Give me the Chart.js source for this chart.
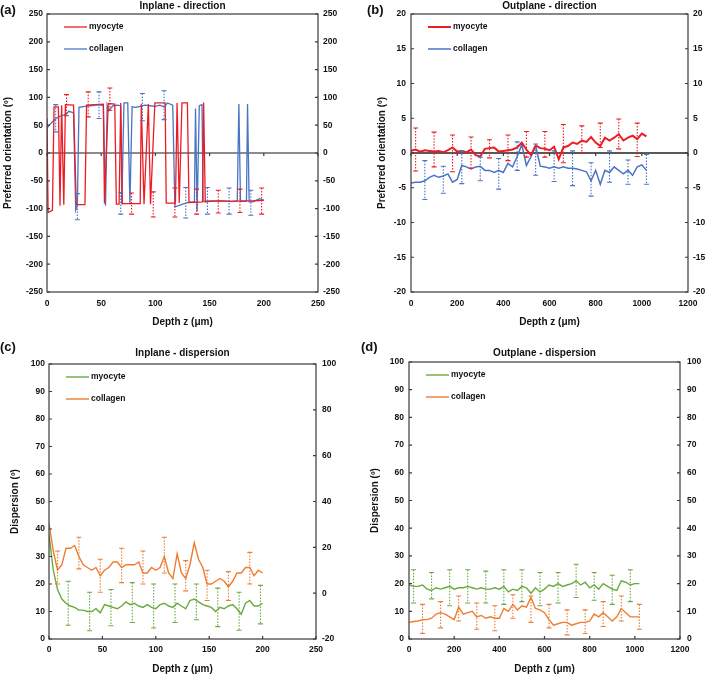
<!DOCTYPE html>
<html>
<head>
<meta charset="utf-8">
<script src="https://cdn.jsdelivr.net/npm/chart.js@4.4.1/dist/chart.umd.min.js"></script>
<style>
  body { margin: 0; background: #fff; width: 708px; height: 676px; position: relative; overflow: hidden;
         font-family: "Liberation Sans", Arial, sans-serif; }
  .pane { position: absolute; }
  .tag { position: absolute; font-weight: bold; font-size: 13px; color: #111; line-height: 15px; }
</style>
</head>
<body>
<div class="pane" style="left:0;top:0;"><canvas id="ca" width="354" height="330"></canvas></div>
<div class="pane" style="left:354px;top:0;"><canvas id="cb" width="354" height="330"></canvas></div>
<div class="pane" style="left:0;top:330px;"><canvas id="cc" width="354" height="346"></canvas></div>
<div class="pane" style="left:354px;top:330px;"><canvas id="cd" width="354" height="346"></canvas></div>
<div class="tag" style="left:0;top:2px;">(a)</div>
<div class="tag" style="left:367px;top:2px;">(b)</div>
<div class="tag" style="left:0;top:339px;">(c)</div>
<div class="tag" style="left:361px;top:339px;">(d)</div>
<script>
// ---- (a) Inplane - direction ----
const aMyoX = [0, 1, 5, 6.5, 10.5, 12, 13.5, 15.5, 17, 24.5, 27, 35, 36.5, 52, 53, 56.5, 62.5, 64, 66.5, 68,
  69.5, 86, 87, 89.5, 93.5, 95.5, 99.5, 109, 110, 118.5, 120, 122, 124.5, 129.5, 131, 143.5, 144.5, 146, 150, 160,
  170, 180, 190, 200];
const aMyoY = [62, -107, -103, 83, 83, -95, 86, -93, 87, 86, -93, -93, 86, 88, -91, 89, 88, -92, -92, 90,
  -91, -91, 88, -92, 88, -92, 90, 90, -90, -90, 90, -90, 90, 90, -89, -88, 91, -88, -87, -86,
  -87, -86, -86, -85];
const aColX = [0, 3, 6, 9, 12, 15, 18, 20, 22, 24.5, 26.5, 28, 29.5, 35, 40, 45, 50, 52, 54, 55.5,
  57, 58.5, 61, 65, 68, 69, 71, 74.5, 76.5, 78.5, 82, 86, 90, 95, 100, 104, 108, 111, 116, 118,
  124, 130, 136, 137, 138.5, 140.5, 143, 144, 150, 160, 170, 175.5, 177, 178.5, 184, 185, 186.5, 190, 196, 200];
const aColY = [45, 52, 58, 63, 66, 68, 70, 75, 74, 72, -103, -95, 82, 84, 85, 86, 86, 85, -95, 86,
  76, 80, 85, 86, 85, -92, 90, 90, -92, 83, 82, 84, 86, 85, 84, 86, 83, 90, 86, -97,
  -93, -89, -88, 80, -105, 85, 87, -87, -86, -86, -87, -86, 88, -87, -87, 88, -88, -88, -82, -85];
const aMyoErrX = [18, 38, 58, 78, 98, 118, 138, 158, 178, 198];
const aMyoErrHi = [105, 110, 117, -72, -70, -63, -65, -67, -65, -63];
const aMyoErrLo = [67, 65, 77, -110, -115, -115, -110, -108, -107, -110];
const aColErrX = [8, 28, 48, 68, 88, 108, 128, 148, 168, 188];
const aColErrHi = [87, -73, 110, -71, 107, 112, -62, -62, -63, -67];
const aColErrLo = [38, -120, 62, -110, 58, 60, -117, -110, -110, -112];

// ---- (b) Outplane - direction ----
const bX = [0, 20, 40, 60, 80, 100, 120, 140, 160, 180, 200, 220, 240, 260, 280, 300, 320, 340, 360, 380,
  400, 420, 440, 460, 480, 500, 520, 540, 560, 580, 600, 620, 640, 660, 680, 700, 720, 740, 760, 780,
  800, 820, 840, 860, 880, 900, 920, 940, 960, 980, 1000, 1020];
const bMyo = [0.3, 0.5, 0.2, 0.4, 0.3, 0.2, 0.3, 0.1, 0.4, 0.8, 0.2, 0.3, 0.1, 0.5, -0.3, -0.5, 0.6, 0.7, 0.8, 0.2,
  0.3, 0.4, 0.5, 0.8, 1.5, 0.5, -0.3, 1.1, 0.7, 0.6, 0.4, 0.9, -0.9, 0.8, 1.0, 1.5, 1.3, 1.8, 1.6, 2.3,
  1.5, 1.0, 2.2, 1.8, 2.2, 2.7, 1.8, 2.2, 2.5, 2.0, 2.8, 2.4];
const bCol = [-4.3, -4.2, -4.2, -4.0, -3.5, -3.2, -3.5, -3.3, -3.0, -4.2, -3.8, -1.8, -2.0, -2.3, -2.0, -1.9, -2.5, -2.5, -2.8, -2.5,
  -2.8, -1.5, -2.0, -0.5, 1.2, -1.8, -0.5, 1.0, -1.9, -2.0, -2.2, -2.0, -2.2, -2.0, -2.2, -2.2, -2.3, -2.5, -2.7, -4.0,
  -2.5, -4.5, -2.5, -2.8, -2.0, -2.5, -3.0, -2.5, -3.2, -2.0, -1.7, -2.5];
const bMyoErrX = [20, 100, 180, 260, 340, 420, 500, 580, 660, 740, 820, 900, 980];
const bMyoErrHi = [3.6, 3.0, 2.6, 2.3, 1.9, 2.6, 3.1, 3.1, 4.1, 3.9, 4.3, 4.9, 4.3];
const bMyoErrLo = [-2.6, -2.0, -2.7, -2.2, -0.7, -1.1, -0.6, -0.6, -1.4, 0.0, 0.8, 0.6, -0.5];
const bColErrX = [60, 140, 220, 300, 380, 460, 540, 620, 700, 780, 860, 940, 1020];
const bColErrHi = [-1.1, -1.9, 0.3, -0.6, -0.8, 1.6, 1.3, 0.3, 0.3, -1.4, 0.3, -1.0, -0.2];
const bColErrLo = [-6.7, -5.8, -4.4, -4.0, -5.2, -2.5, -3.2, -4.1, -4.7, -6.2, -4.2, -4.5, -4.5];

// ---- (c) Inplane - dispersion ----
const cX = [0, 4, 8, 12, 16, 20, 24, 28, 32, 36, 40, 44, 48, 52, 56, 60, 64, 68, 72, 76,
  80, 84, 88, 92, 96, 100, 104, 108, 112, 116, 120, 124, 128, 132, 136, 140, 144, 148, 152, 156,
  160, 164, 168, 172, 176, 180, 184, 188, 192, 196, 200];
const cMyo = [38, 25, 18, 14.5, 13, 12, 11.5, 10.5, 10.5, 10, 10, 11, 9.5, 12.5, 12, 11.5, 11, 12, 13.5, 12.5,
  13, 12, 11.5, 12.5, 11.5, 11, 12.5, 13, 12, 11.5, 13, 12, 11, 14, 14.5, 13.5, 12.5, 12, 11.5, 10,
  11.5, 11, 12, 12.5, 11, 9, 13, 14, 12, 12, 13];
const cCol = [42, 32, 25, 27, 33, 33, 34, 30, 27, 26, 25, 26, 23, 25, 26, 28, 28, 26, 27, 27,
  27, 28, 24, 24, 26, 25, 26, 30, 24, 22, 31, 24, 22, 27, 35, 29, 26, 20, 20, 21,
  22, 21, 19, 21, 24, 24, 26, 26, 23, 25, 24];
const cMyoErrX = [18, 38, 58, 78, 98, 118, 138, 158, 178, 198];
const cMyoErrHi = [21, 17, 18, 20.5, 20, 20, 20, 18.5, 17, 19.5];
const cMyoErrLo = [5, 3, 4.8, 6, 4, 6, 7, 4.5, 3.2, 5.5];
const cColErrX = [8, 28, 48, 68, 88, 108, 128, 148, 168, 188];
const cColErrHi = [32, 37, 29, 33, 32, 37, 28.5, 25, 24.5, 31.5];
const cColErrLo = [20, 25.5, 17, 20.5, 20, 24, 17.5, 14, 14, 20];

// ---- (d) Outplane - dispersion ----
const dX = bX;
const dMyo = [19.5, 19, 19, 19.5, 18, 17.5, 18.5, 18, 18.5, 19, 18, 18.5, 18.5, 19, 18.5, 18, 18.5, 18, 18, 18.5,
  18, 19, 17, 18, 17.5, 19, 18.5, 16.5, 18.5, 17, 18, 19.5, 19, 20, 19, 19.5, 20, 21, 19.5, 20.5,
  18.5, 19.5, 18, 20, 19, 18, 17.5, 21, 20.5, 19.5, 20, 20];
const dCol = [6, 6.3, 6.5, 7, 7, 7.5, 9, 9.5, 9, 8, 7, 11.5, 9, 9.5, 10, 8, 8.5, 7.5, 8, 7.5,
  7.5, 11, 10, 12.5, 10.5, 12, 11.5, 15, 11, 10.5, 9.5, 7, 5, 5.5, 6, 6, 5, 5.5, 6, 6,
  6.5, 9, 8, 9.5, 8, 6.5, 8, 11, 9.5, 8, 8, 8];
const dMyoErrX = [20, 100, 180, 260, 340, 420, 500, 580, 660, 740, 820, 900, 980];
const dMyoErrHi = [25, 24, 25, 25, 24.5, 25, 25, 24, 24, 27, 24, 23, 25];
const dMyoErrLo = [13, 14.5, 12, 13, 13, 12.5, 13.5, 12, 13, 15, 14, 12.5, 13.5];
const dColErrX = [60, 140, 220, 300, 380, 460, 540, 620, 700, 780, 860, 940, 1020];
const dColErrHi = [12.5, 13.5, 15.5, 13, 12, 16, 15.5, 12.5, 10.5, 10.5, 13.5, 15.5, 12.5];
const dColErrLo = [2, 4, 6.5, 3.5, 3, 7.5, 6, 4, 1.5, 2, 4.5, 6.5, 3.5];

const RED = '#ec1c24', BLUE = '#4a74c4', GREEN = '#6aaa3f', ORANGE = '#ee7d31';
const FONT = "'Liberation Sans', Arial, sans-serif";
const INK = '#111';

Chart.defaults.font.family = FONT;
Chart.defaults.color = INK;

const pts = (xs, ys) => xs.map((x, i) => ({ x, y: ys[i] }));
const panelCfg = {};

// frame, inner tick marks, zero axis, error bars, in-plot legend
const panelPlugin = {
  id: 'panel',
  beforeDatasetsDraw(chart) {
    const p = panelCfg[chart.canvas.id];
    if (!p.zeroAxis) return;
    const { ctx, chartArea: a, scales } = chart;
    const py = scales.y.getPixelForValue(0);
    ctx.save();
    ctx.strokeStyle = p.zeroColor; ctx.lineWidth = 1.3;
    ctx.beginPath(); ctx.moveTo(a.left, py); ctx.lineTo(a.right, py); ctx.stroke();
    ctx.restore();
  },
  afterDatasetsDraw(chart) {
    const p = panelCfg[chart.canvas.id];
    const { ctx, chartArea: a, scales } = chart;
    const x = scales.x, y = scales.y;
    ctx.save();
    // error bars
    p.errors.forEach(e => {
      ctx.strokeStyle = e.color; ctx.lineWidth = 1.1;
      e.xs.forEach((xv, i) => {
        const px = x.getPixelForValue(xv);
        const top = y.getPixelForValue(e.hi[i]), bot = y.getPixelForValue(e.lo[i]);
        ctx.setLineDash([1.5, 1.5]);
        ctx.beginPath(); ctx.moveTo(px, top); ctx.lineTo(px, bot); ctx.stroke();
        ctx.setLineDash([]);
        ctx.beginPath();
        ctx.moveTo(px - 2.5, top); ctx.lineTo(px + 2.5, top);
        ctx.moveTo(px - 2.5, bot); ctx.lineTo(px + 2.5, bot);
        ctx.stroke();
      });
    });
    // legend
    ctx.font = 'bold 8.5px ' + FONT;
    ctx.textBaseline = 'middle';
    chart.data.datasets.forEach((ds, i) => {
      const ly = a.top + 13 + i * 22;
      ctx.strokeStyle = ds.borderColor; ctx.lineWidth = ds.borderWidth;
      ctx.beginPath(); ctx.moveTo(a.left + 17, ly); ctx.lineTo(a.left + 40, ly); ctx.stroke();
      ctx.fillStyle = INK;
      ctx.fillText(ds.label, a.left + 42, ly);
    });
    ctx.restore();
  },
  afterDraw(chart) {
    const p = panelCfg[chart.canvas.id];
    const { ctx, chartArea: a, scales } = chart;
    ctx.save();
    ctx.strokeStyle = '#3a3a3a'; ctx.lineWidth = 1.2;
    ctx.strokeRect(a.left, a.top, a.right - a.left, a.bottom - a.top);
    ctx.beginPath();
    scales.y.ticks.forEach(t => {
      const py = scales.y.getPixelForValue(t.value);
      ctx.moveTo(a.left, py); ctx.lineTo(a.left + 3, py);
    });
    scales.y2.ticks.forEach(t => {
      const py = scales.y2.getPixelForValue(t.value);
      ctx.moveTo(a.right - 3, py); ctx.lineTo(a.right, py);
    });
    const base = p.zeroAxis ? scales.y.getPixelForValue(0) : a.bottom;
    const dir = p.zeroAxis ? 3 : -3;
    scales.x.ticks.forEach(t => {
      const px = scales.x.getPixelForValue(t.value);
      ctx.moveTo(px, base); ctx.lineTo(px, base + dir);
    });
    ctx.stroke();
    ctx.restore();
  }
};

function buildPanel(id, p) {
  panelCfg[id] = p;
  const tickFont = { size: 8.5, weight: 'bold' };
  const titleFont = { size: 10, weight: 'bold' };
  const datasets = p.series.map(s => ({
    label: s.label, data: pts(s.xs, s.ys), borderColor: s.color, backgroundColor: s.color,
    borderWidth: s.width, pointRadius: 0, tension: 0, yAxisID: 'y'
  }));
  return new Chart(document.getElementById(id), {
    type: 'line',
    data: { datasets },
    options: {
      responsive: false, animation: false,
      layout: { padding: 0 },
      plugins: {
        legend: { display: false }, tooltip: { enabled: false },
        title: { display: true, text: p.title, fullSize: false, color: INK, font: titleFont, padding: p.titlePad }
      },
      scales: {
        x: {
          type: 'linear', min: 0, max: p.xMax,
          ticks: { stepSize: p.xStep, font: tickFont, color: INK, padding: p.xTickPad, maxRotation: 0, autoSkip: false, callback: v => String(v) },
          grid: { display: false, drawTicks: false }, border: { display: false },
          title: { display: true, text: 'Depth z (μm)', color: INK, font: titleFont, padding: { top: 0, bottom: p.xTitlePad } },
          afterFit: s => { s.height = p.xH; }
        },
        y: {
          type: 'linear', position: 'left', min: p.yMin, max: p.yMax,
          ticks: { stepSize: p.yStep, font: tickFont, color: INK, padding: p.yTickPad, callback: v => String(v) },
          grid: { display: false, drawTicks: false }, border: { display: false },
          title: { display: true, text: p.yTitle, color: INK, font: titleFont, padding: { top: p.yTitlePad, bottom: 0 } },
          afterFit: s => { s.width = p.leftW; }
        },
        y2: {
          type: 'linear', position: 'right', min: p.y2Min, max: p.y2Max,
          ticks: { stepSize: p.y2Step, font: tickFont, color: INK, padding: p.y2TickPad, callback: v => String(v) },
          grid: { display: false, drawTicks: false }, border: { display: false },
          afterFit: s => { s.width = p.rightW; }
        }
      }
    },
    plugins: [panelPlugin]
  });
}

buildPanel('ca', {
  title: 'Inplane - direction', titlePad: { top: 0, bottom: 2 },
  xMax: 250, xStep: 50, xH: 38, xTickPad: 7, xTitlePad: 2,
  yMin: -250, yMax: 250, yStep: 50, yTitle: 'Preferred orientation (º)', yTitlePad: 2, leftW: 47, yTickPad: 4,
  y2Min: -250, y2Max: 250, y2Step: 50, rightW: 36, y2TickPad: 5,
  zeroAxis: true, zeroColor: '#666',
  series: [
    { label: 'myocyte', xs: aMyoX, ys: aMyoY, color: RED, width: 1.3 },
    { label: 'collagen', xs: aColX, ys: aColY, color: BLUE, width: 1.3 }
  ],
  errors: [
    { xs: aMyoErrX, hi: aMyoErrHi, lo: aMyoErrLo, color: RED },
    { xs: aColErrX, hi: aColErrHi, lo: aColErrLo, color: BLUE }
  ]
});

buildPanel('cb', {
  title: 'Outplane - direction', titlePad: { top: 0, bottom: 2 },
  xMax: 1200, xStep: 200, xH: 38, xTickPad: 7, xTitlePad: 2,
  yMin: -20, yMax: 20, yStep: 5, yTitle: 'Preferred orientation (º)', yTitlePad: 22, leftW: 57, yTickPad: 5,
  y2Min: -20, y2Max: 20, y2Step: 5, rightW: 20, y2TickPad: 5,
  zeroAxis: true, zeroColor: '#222',
  series: [
    { label: 'myocyte', xs: bX, ys: bMyo, color: RED, width: 2 },
    { label: 'collagen', xs: bX, ys: bCol, color: BLUE, width: 1.5 }
  ],
  errors: [
    { xs: bMyoErrX, hi: bMyoErrHi, lo: bMyoErrLo, color: RED },
    { xs: bColErrX, hi: bColErrHi, lo: bColErrLo, color: BLUE }
  ]
});

buildPanel('cc', {
  title: 'Inplane - dispersion', titlePad: { top: 17, bottom: 5 },
  xMax: 250, xStep: 50, xH: 37, xTickPad: 6, xTitlePad: 1,
  yMin: 0, yMax: 100, yStep: 10, yTitle: 'Dispersion (º)', yTitlePad: 9, leftW: 49, yTickPad: 4,
  y2Min: -20, y2Max: 100, y2Step: 20, rightW: 38, y2TickPad: 6,
  zeroAxis: false,
  series: [
    { label: 'myocyte', xs: cX, ys: cMyo, color: GREEN, width: 1.4 },
    { label: 'collagen', xs: cX, ys: cCol, color: ORANGE, width: 1.4 }
  ],
  errors: [
    { xs: cMyoErrX, hi: cMyoErrHi, lo: cMyoErrLo, color: GREEN },
    { xs: cColErrX, hi: cColErrHi, lo: cColErrLo, color: ORANGE }
  ]
});

buildPanel('cd', {
  title: 'Outplane - dispersion', titlePad: { top: 17, bottom: 3 },
  xMax: 1200, xStep: 200, xH: 37, xTickPad: 6, xTitlePad: 1,
  yMin: 0, yMax: 100, yStep: 10, yTitle: 'Dispersion (º)', yTitlePad: 15, leftW: 55, yTickPad: 5,
  y2Min: 0, y2Max: 100, y2Step: 10, rightW: 28, y2TickPad: 7,
  zeroAxis: false,
  series: [
    { label: 'myocyte', xs: dX, ys: dMyo, color: GREEN, width: 1.4 },
    { label: 'collagen', xs: dX, ys: dCol, color: ORANGE, width: 1.4 }
  ],
  errors: [
    { xs: dMyoErrX, hi: dMyoErrHi, lo: dMyoErrLo, color: GREEN },
    { xs: dColErrX, hi: dColErrHi, lo: dColErrLo, color: ORANGE }
  ]
});
</script>
</body>
</html>
